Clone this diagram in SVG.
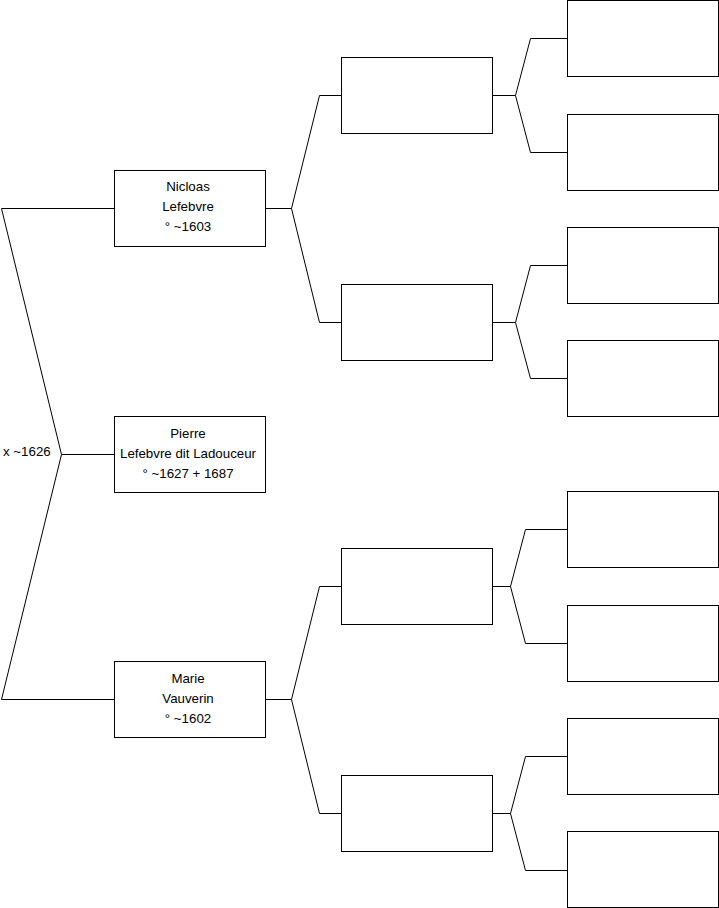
<svg xmlns="http://www.w3.org/2000/svg" width="719" height="908" viewBox="0 0 719 908">
<style>
.box{fill:#fff;stroke:#000;stroke-width:1}
.con{fill:none;stroke:#000;stroke-width:1}
text{font-family:"Liberation Sans",Arial,sans-serif;font-size:13.3px;fill:#000}
.c{text-anchor:middle}
</style>
<rect width="719" height="908" fill="#fff"/>
<g id="connectors">
<polyline class="con" points="114.5,208.5 1.5,208.5 61.5,454.5 1.5,699.5 114.5,699.5"/>
<line class="con" x1="61.5" y1="454.5" x2="114.5" y2="454.5"/>
<polyline class="con" points="341.5,95.5 319.5,95.5 291.5,208.5 319.5,322.5 341.5,322.5"/>
<line class="con" x1="265.5" y1="208.5" x2="291.5" y2="208.5"/>
<polyline class="con" points="341.5,586.5 319.5,586.5 291.5,699.5 319.5,813.5 341.5,813.5"/>
<line class="con" x1="265.5" y1="699.5" x2="291.5" y2="699.5"/>
<polyline class="con" points="567.5,38.5 530.5,38.5 515.5,95.5 530.5,152.5 567.5,152.5"/>
<line class="con" x1="492.5" y1="95.5" x2="515.5" y2="95.5"/>
<polyline class="con" points="567.5,265.5 530.5,265.5 515.5,322.5 530.5,378.5 567.5,378.5"/>
<line class="con" x1="492.5" y1="322.5" x2="515.5" y2="322.5"/>
<polyline class="con" points="567.5,529.5 525.5,529.5 510.5,586.5 525.5,643.5 567.5,643.5"/>
<line class="con" x1="492.5" y1="586.5" x2="510.5" y2="586.5"/>
<polyline class="con" points="567.5,756.5 525.5,756.5 510.5,813.5 525.5,870.5 567.5,870.5"/>
<line class="con" x1="492.5" y1="813.5" x2="510.5" y2="813.5"/>
</g>
<g id="marriage"><text x="3" y="456">x ~1626</text></g>
<g id="nicloas"><rect class="box" x="114.5" y="170.5" width="151" height="76"/>
<text class="c" x="188" y="191">Nicloas</text><text class="c" x="188" y="211">Lefebvre</text><text class="c" x="188" y="231">° ~1603</text></g>
<g id="pierre"><rect class="box" x="114.5" y="416.5" width="151" height="76"/>
<text class="c" x="188" y="438">Pierre</text><text class="c" x="188" y="458">Lefebvre dit Ladouceur</text><text class="c" x="188" y="478">° ~1627 + 1687</text></g>
<g id="marie"><rect class="box" x="114.5" y="661.5" width="151" height="76"/>
<text class="c" x="188" y="683">Marie</text><text class="c" x="188" y="703">Vauverin</text><text class="c" x="188" y="723">° ~1602</text></g>
<g id="gp1"><rect class="box" x="341.5" y="57.5" width="151" height="76"/></g>
<g id="gp2"><rect class="box" x="341.5" y="284.5" width="151" height="76"/></g>
<g id="gp3"><rect class="box" x="341.5" y="548.5" width="151" height="76"/></g>
<g id="gp4"><rect class="box" x="341.5" y="775.5" width="151" height="76"/></g>
<g id="ggp1"><rect class="box" x="567.5" y="0.5" width="151" height="76"/></g>
<g id="ggp2"><rect class="box" x="567.5" y="114.5" width="151" height="76"/></g>
<g id="ggp3"><rect class="box" x="567.5" y="227.5" width="151" height="76"/></g>
<g id="ggp4"><rect class="box" x="567.5" y="340.5" width="151" height="76"/></g>
<g id="ggp5"><rect class="box" x="567.5" y="491.5" width="151" height="76"/></g>
<g id="ggp6"><rect class="box" x="567.5" y="605.5" width="151" height="76"/></g>
<g id="ggp7"><rect class="box" x="567.5" y="718.5" width="151" height="76"/></g>
<g id="ggp8"><rect class="box" x="567.5" y="831.5" width="151" height="76"/></g>
</svg>
